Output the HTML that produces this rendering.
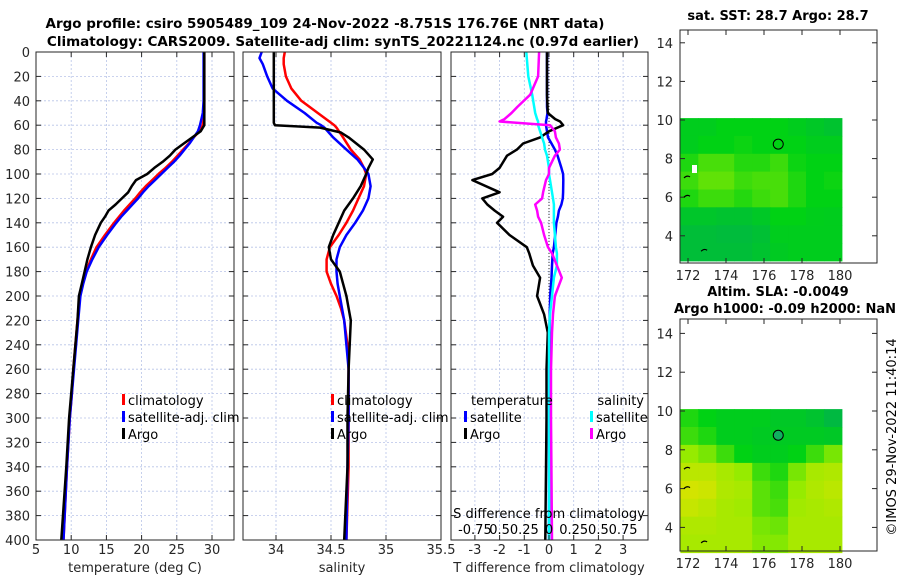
<!DOCTYPE html>
<html><head><meta charset="utf-8"><style>
body{margin:0;background:#fff;}
svg{display:block;font-family:"DejaVu Sans","Liberation Sans",sans-serif;}
</style></head><body>
<svg id="fig" width="900" height="580" viewBox="0 0 900 580">
<g id="g"></g>
</svg>
<script>
// ---- data ----
const depths = [0,20,40,50,55,60,65,70,75,80,85,90,95,100,105,110,115,120,125,130,135,140,150,160,170,180,190,200,220,240,260,280,300,340,400];
const tempClim = [28.9,28.9,28.9,28.9,28.8,28.7,28.2,27.4,26.7,25.9,25.1,24.3,23.4,22.4,21.5,20.6,19.8,19.1,18.3,17.5,16.8,16.1,14.8,13.6,12.8,12.1,11.6,11.2,10.9,10.6,10.3,10.1,9.8,9.4,8.9];
const tempSat = [28.8,28.8,28.8,28.7,28.5,28.3,28.0,27.4,26.8,26.1,25.4,24.6,23.7,22.8,21.9,21.0,20.2,19.5,18.7,17.9,17.1,16.4,15.1,13.9,13.0,12.2,11.7,11.3,11.0,10.7,10.4,10.1,9.8,9.4,8.9];
const tempArgo = [28.9,28.9,28.9,28.9,28.9,28.9,28.4,27.2,26.0,24.8,24.0,23.0,21.8,20.8,19.2,18.6,18.1,17.2,16.3,15.3,14.8,14.2,13.4,12.8,12.3,11.9,11.5,11.1,10.9,10.6,10.3,10.0,9.7,9.3,8.6];
const salDepths = [0,5,10,20,30,40,50,58,60,62,66,70,80,88,95,100,110,120,130,140,150,160,170,180,190,200,210,220,240,260,300,340,400];
const salClim = [34.08,34.07,34.07,34.09,34.14,34.23,34.38,34.50,34.53,34.55,34.58,34.61,34.68,34.76,34.80,34.82,34.80,34.75,34.70,34.64,34.57,34.49,34.46,34.46,34.50,34.55,34.59,34.62,34.65,34.66,34.66,34.66,34.64];
const salSat = [33.87,33.85,33.88,33.92,33.97,34.10,34.26,34.37,34.41,34.44,34.48,34.52,34.64,34.74,34.80,34.84,34.86,34.84,34.79,34.72,34.64,34.58,34.55,34.55,34.56,34.58,34.60,34.62,34.64,34.66,34.66,34.65,34.64];
const salArgo = [33.98,33.98,33.98,33.98,33.98,33.98,33.98,33.98,33.99,34.40,34.59,34.66,34.80,34.88,34.84,34.82,34.77,34.70,34.62,34.57,34.52,34.48,34.50,34.58,34.61,34.64,34.66,34.68,34.67,34.66,34.65,34.65,34.62];
const diffDepths = [0,20,35,45,50,55,57,60,65,70,75,80,85,95,100,105,115,120,125,130,135,140,150,160,165,175,185,200,215,230,260,300,400];
const dTsat = [-0.08,-0.08,-0.08,-0.08,-0.06,-0.1,-0.12,-0.12,-0.08,-0.04,0.1,0.24,0.35,0.5,0.57,0.58,0.57,0.56,0.5,0.4,0.36,0.3,0.25,0.2,0.15,0.12,0.1,0.05,0.03,0.02,0.0,0.0,0.0];
const dTargo = [-0.08,-0.08,-0.08,-0.06,-0.05,0.25,0.45,0.57,0.0,-0.36,-1.05,-1.3,-1.7,-2.0,-2.3,-3.1,-2.0,-2.7,-2.5,-2.2,-1.86,-2.1,-1.6,-0.9,-0.8,-0.65,-0.36,-0.48,-0.2,-0.05,-0.1,-0.1,-0.15];
const dSsat = [-0.23,-0.21,-0.17,-0.15,-0.14,-0.12,-0.11,-0.11,-0.09,-0.07,-0.05,-0.04,-0.02,0.0,0.0,0.01,0.03,0.04,0.05,0.05,0.05,0.05,0.06,0.07,0.08,0.08,0.05,0.03,0.01,0.0,0.0,0.0,0.0];
const dSargo = [-0.10,-0.11,-0.19,-0.32,-0.38,-0.45,-0.5,0.01,0.06,0.07,0.10,0.11,0.06,0.0,0.0,-0.03,-0.06,-0.07,-0.14,-0.12,-0.11,-0.08,-0.05,-0.01,0.03,0.08,0.13,0.06,0.04,0.03,0.02,0.02,0.03];
const depthTicks = [0,20,40,60,80,100,120,140,160,180,200,220,240,260,280,300,320,340,360,380,400];
const tempTicks = [5,10,15,20,25,30];
const salTicks = [34,34.5,35,35.5];
const salTickLabels = ["34","34.5","35","35.5"];
const dTTicks = [-3,-2,-1,0,1,2,3];
const dSTicks = [-0.75,-0.5,-0.25,0,0.25,0.5,0.75];
const dSTickLabels = ["-0.75","0.5","0.25","0","0.25","0.5","0.75"];
const latTicks = [4,6,8,10,12,14];
const lonTicks = [172,174,176,178,180];
const sstGrid = [
[0.45,0.45,0.5,0.5,0.5,0.5,0.45,0.4,0.35],
[0.45,0.5,0.5,0.52,0.5,0.5,0.5,0.45,0.45],
[0.55,0.62,0.62,0.56,0.56,0.6,0.52,0.5,0.5],
[0.6,0.66,0.66,0.6,0.62,0.62,0.55,0.5,0.52],
[0.55,0.6,0.6,0.56,0.6,0.62,0.55,0.5,0.5],
[0.38,0.38,0.35,0.35,0.4,0.5,0.5,0.46,0.45],
[0.3,0.3,0.28,0.28,0.32,0.45,0.45,0.45,0.45],
[0.3,0.3,0.3,0.3,0.35,0.42,0.45,0.45,0.45]];
const slaGrid = [
[0.55,0.5,0.45,0.45,0.45,0.4,0.4,0.35,0.25],
[0.6,0.55,0.45,0.45,0.42,0.42,0.42,0.42,0.4],
[0.75,0.7,0.6,0.5,0.45,0.45,0.5,0.6,0.7],
[0.85,0.85,0.8,0.75,0.6,0.55,0.7,0.8,0.82],
[0.92,0.9,0.82,0.8,0.65,0.6,0.75,0.82,0.85],
[0.88,0.85,0.8,0.78,0.65,0.62,0.78,0.8,0.82],
[0.82,0.82,0.8,0.8,0.7,0.68,0.8,0.8,0.8],
[0.8,0.8,0.8,0.8,0.72,0.72,0.8,0.8,0.8]];
const argoLon = 176.75, argoLat = 8.75;

// ---- helpers ----
const NS="http://www.w3.org/2000/svg";
const G=document.getElementById('g');
function el(tag,attrs,parent){const e=document.createElementNS(NS,tag);for(const k in attrs)e.setAttribute(k,attrs[k]);(parent||G).appendChild(e);return e;}
function txt(x,y,s,o){o=o||{};const t=el('text',{x:x,y:y,'font-size':o.size||13,'text-anchor':o.anchor||'middle',fill:o.fill||'#262626','font-weight':o.bold?'bold':'normal'});if(o.rot)t.setAttribute('transform','rotate(-90 '+x+' '+y+')');t.textContent=s;return t;}
const yD = d => 52 + d*1.22;
const xT = v => 36 + (v-5)*7.04;
const xS = v => 243 + (v-33.7)*110;
const xDT = v => 549 + v*24.7;
const xDS = v => 549 + v*98.8;

function panel(x0,x1,name){
  const r=el('rect',{x:x0,y:52,width:x1-x0,height:488,fill:'#fff',stroke:'none'});
  
}
function grid(x0,x1,xs){
  xs.forEach(x=>{const l=el('line',{x1:x,x2:x,y1:52,y2:540,stroke:'#b8c4e8','stroke-width':0.8,'stroke-dasharray':'2,2'});});
  depthTicks.forEach(d=>{const l=el('line',{x1:x0,x2:x1,y1:yD(d),y2:yD(d),stroke:'#b8c4e8','stroke-width':0.8,'stroke-dasharray':'2,2'});});
}
function frame(x0,x1,xs,name){
  const r=el('rect',{x:x0,y:52,width:x1-x0,height:488,fill:'none',stroke:'#262626','stroke-width':1});
  
  depthTicks.forEach(d=>{el('line',{x1:x0,x2:x0+5,y1:yD(d),y2:yD(d),stroke:'#262626'});el('line',{x1:x1,x2:x1-5,y1:yD(d),y2:yD(d),stroke:'#262626'});});
  xs.forEach(x=>{el('line',{x1:x,x2:x,y1:540,y2:535,stroke:'#262626'});el('line',{x1:x,x2:x,y1:52,y2:57,stroke:'#262626'});});
}
function line(xs,ds,fx,color,name,w){
  const p=xs.map((v,i)=>fx(v).toFixed(1)+','+yD(ds[i]).toFixed(1)).join(' ');
  const l=el('polyline',{points:p,fill:'none',stroke:color,'stroke-width':w||2.5,'stroke-linejoin':'round'});
  
}
function legend(x,y,items){
  items.forEach((it,i)=>{
    const yy=y+i*17;
    const m=el('rect',{x:x,y:yy-11,width:3,height:11,fill:it[1]});
    const t=txt(x+6,yy,it[0],{anchor:'start',fill:'#000'});
  });
}

// ---- titles ----
let t=txt(325,28,'Argo profile: csiro 5905489_109 24-Nov-2022 -8.751S 176.76E (NRT data)',{bold:true,fill:'#000',size:13.5});

t=txt(343,46,'Climatology: CARS2009. Satellite-adj clim: synTS_20221124.nc (0.97d earlier)',{bold:true,fill:'#000',size:13.5});


// ---- panel 1 temperature ----
panel(36,234,'temperature-panel');
grid(36,234,tempTicks.map(xT));
line(tempClim,depths,xT,'#ff0000','temp-climatology-line');
line(tempSat,depths,xT,'#0000ff','temp-satellite-line');
line(tempArgo,depths,xT,'#000000','temp-argo-line');
frame(36,234,tempTicks.map(xT),'temperature-panel');
depthTicks.forEach(d=>{const a=txt(30,yD(d)+5,String(d),{anchor:'end'});});
tempTicks.forEach(v=>{const a=txt(xT(v),554,String(v));});
t=txt(135,572,'temperature (deg C)');
legend(122,405,[['climatology','#ff0000'],['satellite-adj. clim','#0000ff'],['Argo','#000']]);

// ---- panel 2 salinity ----
panel(243,441,'salinity-panel');
grid(243,441,salTicks.map(xS));
line(salClim,salDepths,xS,'#ff0000','sal-climatology-line');
line(salSat,salDepths,xS,'#0000ff','sal-satellite-line');
line(salArgo,salDepths,xS,'#000000','sal-argo-line');
frame(243,441,salTicks.map(xS),'salinity-panel');
salTicks.forEach((v,i)=>{const a=txt(xS(v),554,salTickLabels[i]);});
t=txt(342,572,'salinity');
legend(331,405,[['climatology','#ff0000'],['satellite-adj. clim','#0000ff'],['Argo','#000']]);

// ---- panel 3 differences ----
panel(451,648,'difference-panel');
grid(451,648,dTTicks.map(xDT));
const zl=el('line',{x1:549,x2:549,y1:52,y2:540,stroke:'#333','stroke-width':1,'stroke-dasharray':'1,2'});

line(dTsat,diffDepths,xDT,'#0000ff','temp-diff-satellite-line');
line(dTargo,diffDepths,xDT,'#000000','temp-diff-argo-line');
line(dSsat,diffDepths,xDS,'#00ffff','sal-diff-satellite-line');
line(dSargo,diffDepths,xDS,'#ff00ff','sal-diff-argo-line');
frame(451,648,dTTicks.map(xDT),'difference-panel');
dTTicks.forEach(v=>{const a=txt(xDT(v),554,String(v));});
t=txt(549,572,'T difference from climatology');
t=txt(549,518,'S difference from climatology',{fill:'#000'});
dSTicks.forEach((v,i)=>{const a=txt(549+v*98.8,534,dSTickLabels[i],{fill:'#000'});});
t=txt(471,405,'temperature',{anchor:'start',fill:'#000'});
t=txt(644,405,'salinity',{anchor:'end',fill:'#000'});
legend(464,422,[['satellite','#0000ff'],['Argo','#000']]);
legend(590,422,[['satellite','#00ffff'],['Argo','#ff00ff']]);

// ---- maps ----
function cmap(v){
  const stops=[[0,[0,160,110]],[0.5,[0,210,20]],[0.75,[150,235,0]],[1,[240,225,0]]];
  for(let i=1;i<stops.length;i++){if(v<=stops[i][0]){const a=stops[i-1],b=stops[i];const f=(v-a[0])/(b[0]-a[0]);
    return 'rgb('+a[1].map((c,k)=>Math.round(c+(b[1][k]-c)*f)).join(',')+')';}}
  return 'rgb(240,225,0)';
}
function map(top,bottom,lat10y,pxLat,gridv,name,fillCircle){
  const xL = lon => 688 + (lon-172)*19.0;
  const yL = lat => lat10y + (10-lat)*pxLat;
  const r=el('rect',{x:680,y:top,width:197,height:bottom-top,fill:'#fff'});
  
  const lon0=171.6,lon1=180.1,lat0=10.1,lat1=2.7;
  const nr=gridv.length,nc=gridv[0].length;
  const cw=(lon1-lon0)/nc,ch=(lat0-lat1)/nr;
  gridv.forEach((row,i)=>row.forEach((v,j)=>{
    const x=xL(lon0+j*cw),y=yL(lat0-i*ch);
    const c=el('rect',{x:x.toFixed(1),y:y.toFixed(1),width:(xL(lon0+(j+1)*cw)-x+0.5).toFixed(1),height:(yL(lat0-(i+1)*ch)-y+0.5).toFixed(1),fill:cmap(v)});
    
  }));
  const c=el('circle',{cx:xL(argoLon),cy:yL(argoLat),r:5,fill:fillCircle,stroke:'#000','stroke-width':1});
  
  const f=el('rect',{x:680,y:top,width:197,height:bottom-top,fill:'none',stroke:'#262626'});
  
  latTicks.forEach(l=>{const y=yL(l);if(y<top||y>bottom)return;el('line',{x1:680,x2:685,y1:y,y2:y,stroke:'#262626'});el('line',{x1:877,x2:872,y1:y,y2:y,stroke:'#262626'});
    const a=txt(673,y+5,String(l),{anchor:'end'});});
  lonTicks.forEach(l=>{const x=xL(l);el('line',{x1:x,x2:x,y1:bottom,y2:bottom-5,stroke:'#262626'});el('line',{x1:x,x2:x,y1:top,y2:top+5,stroke:'#262626'});
    const a=txt(x,bottom+17,String(l));});
  [[172.0,7.0],[172.0,6.0],[172.9,3.2]].forEach(p=>{const m=el('path',{d:'M'+(xL(p[0])-4)+' '+yL(p[1])+' q3 -3 6 -1',fill:'none',stroke:'#000','stroke-width':1.2});});
}
map(30,263,120,19.3,sstGrid,'sst-map','none');
const wr=el('rect',{x:692,y:165,width:5,height:8,fill:'#fff'});
t=txt(778,20,'sat. SST: 28.7 Argo: 28.7',{bold:true,fill:'#000'});
map(319,551,411,19.4,slaGrid,'sla-map','#10b060');
t=txt(778,296,'Altim. SLA: -0.0049',{bold:true,fill:'#000'});
t=txt(785,313,'Argo h1000: -0.09 h2000: NaN',{bold:true,fill:'#000'});
t=txt(896,437,'©IMOS 29-Nov-2022 11:40:14',{rot:true,fill:'#000'});
</script>
</body></html>
